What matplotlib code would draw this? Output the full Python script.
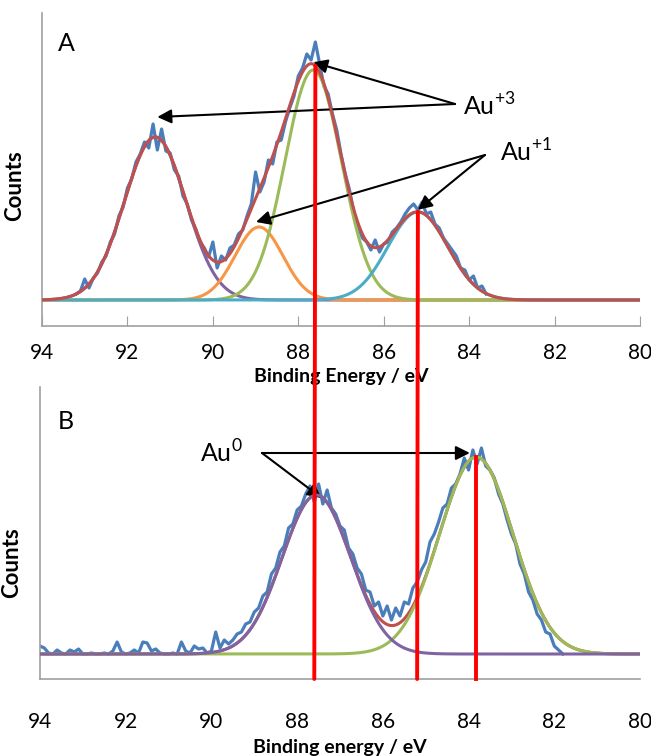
import numpy as np
import matplotlib
matplotlib.use("Agg")
import matplotlib.pyplot as plt
from matplotlib.patches import ConnectionPatch

plt.rcParams['font.family'] = ['Lato', 'DejaVu Sans']
plt.rcParams['mathtext.fontset'] = 'custom'
plt.rcParams['mathtext.rm'] = 'Lato'

# ---- panel A : measured spectrum, 93.2 -> 83.6 eV in 0.1 eV steps
counts_a = [6, 9, 21, 12, 22, 27, 38, 44, 58, 66,
            84, 93, 112, 121, 138, 146, 158, 152, 176, 150,
            171, 149, 147, 130, 124, 104, 96, 80, 71, 58,
            52, 43, 58, 32, 44, 40, 52, 55, 66, 70,
            84, 96, 128, 108, 118, 140, 136, 158, 160, 178,
            192, 204, 224, 232, 246, 240, 258, 236, 214, 206,
            186, 170, 146, 126, 110, 88, 74, 62, 58, 50,
            60, 48, 56, 58, 68, 72, 78, 86, 92, 96,
            90, 98, 86, 88, 76, 72, 62, 56, 50, 44,
            32, 30, 20, 24, 12, 14, 6]
energy_a = np.linspace(93.2, 83.6, len(counts_a))

# fitted components A (centre eV, height, sigma)
peak_a_center = [91.35, 88.92, 87.65, 85.2]
peak_a_height = [163, 73, 230, 88]
peak_a_sigma = [0.72, 0.56, 0.66, 0.70]
peak_a_color = ['#8064A2', '#F79646', '#9BBB59', '#4BACC6']

# ---- panel B : measured spectrum, 94.0 -> 81.8 eV in 0.1 eV steps
counts_b = [8, 6, 1, 0, 4, 1, 0, 4, 2, 5,
            0, 0, 1, 0, 0, 1, 0, 3, 12, 2,
            0, 1, 4, 1, 12, 11, 3, 5, 1, 0,
            0, 1, 0, 12, 3, 1, 8, 5, 6, 1,
            3, 22, 6, 14, 10, 14, 20, 22, 30, 32,
            42, 46, 58, 62, 80, 86, 102, 108, 126, 130,
            144, 148, 160, 168, 152, 170, 150, 164, 146, 140,
            128, 124, 106, 100, 86, 80, 64, 62, 48, 52,
            38, 48, 34, 46, 38, 52, 50, 66, 72, 84,
            92, 112, 120, 132, 146, 150, 166, 170, 180, 196,
            184, 204, 190, 206, 188, 184, 176, 160, 150, 134,
            120, 110, 90, 80, 62, 54, 40, 34, 22, 20,
            8, 4, 0]
energy_b = np.linspace(94.0, 81.8, len(counts_b))

peak_b_center = [87.55, 83.82]
peak_b_height = [159, 197]
peak_b_sigma = [0.80, 0.86]
peak_b_color = ['#8064A2', '#9BBB59']

xticks = [94, 92, 90, 88, 86, 84, 82, 80]

data_blue = '#4A7EBB'
sum_red = '#C0504D'
spine_gray = '#A0A0A0'


def gauss(x, c, h, s):
    return h * np.exp(-(x - c) ** 2 / (2 * s ** 2))


def fit_sum(x, cs, hs, ss):
    return sum(gauss(x, c, h, s) for c, h, s in zip(cs, hs, ss))


xf = np.linspace(94, 80, 701)

fig = plt.figure(figsize=(6.51, 7.56), dpi=100)
axA = fig.add_axes([42 / 651, 1 - 326 / 756, 598 / 651, 313 / 756])
axB = fig.add_axes([40 / 651, 1 - 679 / 756, 600 / 651, 292 / 756])

for ax in (axA, axB):
    ax.set_xlim(94, 80)
    ax.set_xticks(xticks)
    ax.set_yticks([])
    for sp in ('top', 'right'):
        ax.spines[sp].set_visible(False)
    for sp in ('left', 'bottom'):
        ax.spines[sp].set_color(spine_gray)
        ax.spines[sp].set_linewidth(1.2)

axA.set_ylim(-26, 287)
axB.set_ylim(-25, 267)

# ---- panel A
axA.plot(energy_a, counts_a, color=data_blue, lw=2.3, zorder=2)
for c, h, s, col in zip(peak_a_center, peak_a_height, peak_a_sigma, peak_a_color):
    axA.plot(xf, gauss(xf, c, h, s), color=col, lw=2.2, zorder=3)
axA.plot(xf, fit_sum(xf, peak_a_center, peak_a_height, peak_a_sigma),
         color=sum_red, lw=2.2, zorder=4)

axA.tick_params(axis='x', direction='in', length=7, color=spine_gray,
                labelsize=15, pad=12)
axA.set_xlabel('Binding Energy / eV', fontsize=14, fontweight='bold')
axA.xaxis.set_label_coords(0.50, -0.135)
axA.set_ylabel('Counts', fontsize=16, fontweight='bold')
axA.yaxis.set_label_coords(-0.028, 0.45)
axA.text(0.027, 0.94, 'A', transform=axA.transAxes, fontsize=18, va='top')

arrow = dict(arrowstyle='-|>', color='black', lw=1.5, mutation_scale=21,
             shrinkA=0, shrinkB=0)
sumA = lambda x: fit_sum(x, peak_a_center, peak_a_height, peak_a_sigma)

tail3 = (84.33, 196)
axA.annotate('', xy=(peak_a_center[0] - 0.05, peak_a_height[0] + 20),
             xytext=tail3, arrowprops=arrow)
axA.annotate('', xy=(peak_a_center[2], sumA(peak_a_center[2]) + 2),
             xytext=tail3, arrowprops=arrow)
axA.text(84.14, 194, 'Au$^{+3}$', fontsize=18, va='center', ha='left')

tail1 = (83.63, 145)
axA.annotate('', xy=(peak_a_center[1] + 0.07, peak_a_height[1] + 5),
             xytext=tail1, arrowprops=arrow)
axA.annotate('', xy=(peak_a_center[3], sumA(peak_a_center[3]) + 2),
             xytext=tail1, arrowprops=arrow)
axA.text(83.27, 148, 'Au$^{+1}$', fontsize=18, va='center', ha='left')

# ---- panel B
sumB = lambda x: fit_sum(x, peak_b_center, peak_b_height, peak_b_sigma)
axB.plot(energy_b, counts_b, color=data_blue, lw=2.3, zorder=2)
axB.plot(xf, sumB(xf), color=sum_red, lw=2.2, zorder=3)
for c, h, s, col in reversed(list(zip(peak_b_center, peak_b_height,
                                      peak_b_sigma, peak_b_color))):
    axB.plot(xf, gauss(xf, c, h, s), color=col, lw=2.2, zorder=4)

axB.tick_params(axis='x', length=0, labelsize=15, pad=24)
axB.set_xlabel('Binding energy / eV', fontsize=14, fontweight='bold')
axB.xaxis.set_label_coords(0.50, -0.205)
axB.set_ylabel('Counts', fontsize=16, fontweight='bold')
axB.yaxis.set_label_coords(-0.03, 0.40)
axB.text(0.03, 0.92, 'B', transform=axB.transAxes, fontsize=18, va='top')

tail0 = (88.82, 201)
axB.annotate('', xy=(peak_b_center[1] + 0.15, peak_b_height[1] + 4),
             xytext=tail0, arrowprops=arrow)
axB.annotate('', xy=(peak_b_center[0] - 0.12, peak_b_height[0] - 3),
             xytext=tail0, arrowprops=arrow)
axB.text(90.27, 201, 'Au$^{0}$', fontsize=18, va='center', ha='left')

# ---- red reference lines across both panels
for x in (87.6, 85.2):
    con = ConnectionPatch(xyA=(x, sumA(x)), coordsA=axA.transData,
                          xyB=(x, -25), coordsB=axB.transData,
                          color='#FF0000', lw=2.8, zorder=10)
    fig.add_artist(con)
x0 = peak_b_center[1]
axB.plot([x0, x0], [-25, sumB(x0)], color='#FF0000', lw=2.8, zorder=10,
         clip_on=False)

fig.savefig('out.png', dpi=100)
